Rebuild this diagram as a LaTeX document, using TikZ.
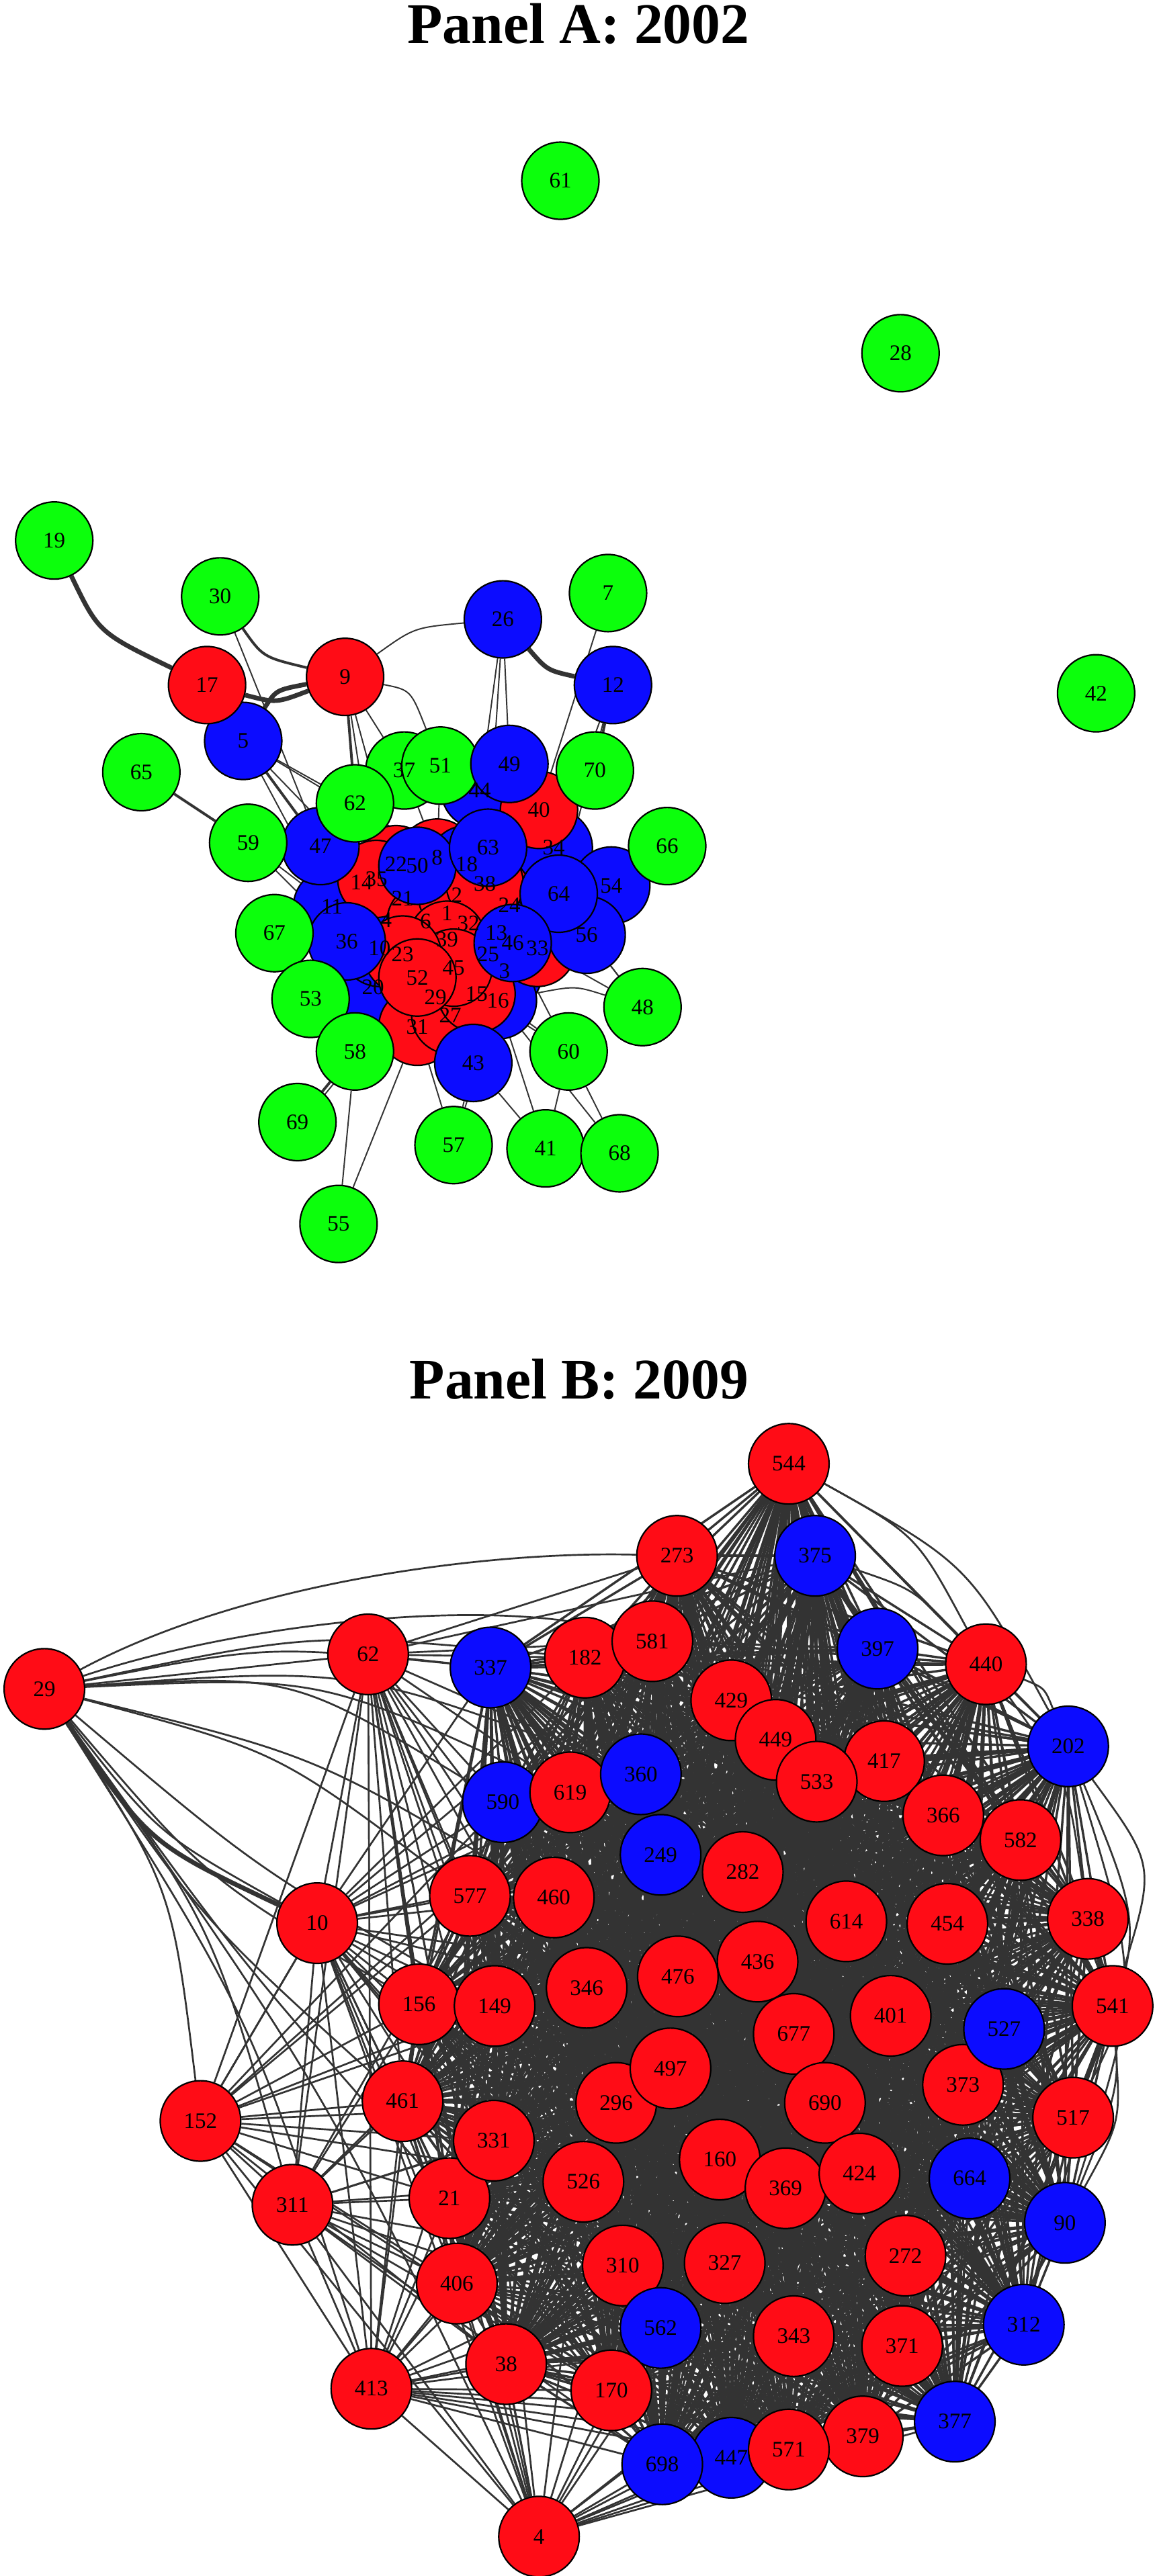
\documentclass[tikz,border=0pt]{standalone}
\usepackage{fontspec}
\setmainfont{Liberation Serif}
\usetikzlibrary{calc}
\definecolor{nred}{RGB}{255,12,22}
\definecolor{nblue}{RGB}{12,12,255}
\definecolor{ngreen}{RGB}{12,255,12}
\definecolor{egray}{RGB}{51,51,51}
\pgfdeclarelayer{bglayer}
\pgfdeclarelayer{edgelayer}
\pgfsetlayers{bglayer,edgelayer,main}
\tikzset{
  vtxA/.style={circle,draw=black,line width=0.9pt,minimum size=47pt,inner sep=0pt},
  vtxB/.style={circle,draw=black,line width=0.9pt,minimum size=49pt,inner sep=0pt},
  lab/.style={font=\fontsize{13.5}{14}\selectfont,inner sep=0pt},
  ttl/.style={font=\fontsize{35}{40}\selectfont\bfseries,inner sep=0pt},
  ed/.style={draw=egray,line width=0.8pt},
  edb/.style={draw=egray,line width=1.1pt},
  edm/.style={draw=egray,line width=1.6pt},
  edk/.style={draw=egray,line width=2.8pt},
  core/.style={draw=egray,line width=1.4pt},
}
\def\listA{22/241/526/nred,8/266/522/nred,18/284/526/nblue,14/220/537/nred,21/245/547/nblue,24/310/551/nred,25/297/581/nblue,3/307/591/nblue,13/302/568/nblue,29/265/607/nred,44/292/481/nblue,34/337/516/nblue,11/202/552/nblue,4/235/560/nblue,20/227/601/nblue,10/231/577/nblue,16/303/609/nblue,33/327/577/nred,35/229/535/nred,1/272/556/nred,6/259/561/nred,32/285/562/nred,2/278/545/nred,38/295/538/nred,40/328/493/nred,31/254/625/nred,27/274/618/nred,15/290/605/nred,39/272/572/nred,45/276/589/nred,23/245/581/nred,52/254/595/nred,47/195/515/nblue,50/254/527/nblue,63/297/516/nblue,54/372/539/nblue,56/357/569/nblue,64/340/544/nblue,46/312/574/nblue,36/211/573/nblue,37/246/469/ngreen,62/216/489/ngreen,51/268/466/ngreen,49/310/465/nblue,70/362/469/ngreen,66/406/515/ngreen,67/167/568/ngreen,53/189/608/ngreen,58/216/640/ngreen,43/288/647/nblue,60/346/640/ngreen,48/391/613/ngreen,69/181/683/ngreen,57/276/697/ngreen,41/332/699/ngreen,68/377/702/ngreen,55/206/745/ngreen,59/151/513/ngreen,65/86/470/ngreen,5/148/451/nblue,17/126/417/nred,9/210/412/nred,30/134/363/ngreen,19/33/329/ngreen,26/306/377/nblue,7/370/361/ngreen,12/373/417/nblue,61/341/110/ngreen,28/548/215/ngreen,42/667/422/ngreen}
\def\listB{544/480/891/nred,273/412/947/nred,375/496/947/nblue,182/356/1009/nred,581/397/999/nred,62/224/1007/nred,337/298.5/1015/nblue,397/534/1003.5/nblue,440/600/1013/nred,29/27/1028/nred,429/445/1035/nred,449/472/1059/nred,417/538/1072/nred,533/497/1084.5/nred,202/650/1063/nblue,590/306/1097/nblue,619/347/1091/nred,360/390/1080/nblue,366/574/1105/nred,582/621/1120/nred,249/402/1129/nblue,282/452/1139.5/nred,577/286/1154/nred,460/337/1155/nred,614/515/1169.5/nred,454/576.5/1171/nred,338/662/1168/nred,10/193/1170.6/nred,476/412.5/1203/nred,436/461/1194/nred,346/357/1210/nred,156/255/1220/nred,149/301/1221/nred,541/677/1221/nred,401/542/1227/nred,373/586/1269/nred,527/611/1235/nblue,677/483/1238/nred,296/375/1280/nred,497/408/1259/nred,690/502/1280/nred,461/245/1279/nred,517/653/1289/nred,152/122/1291/nred,21/273.5/1338/nred,331/300.5/1303/nred,160/438/1314.5/nred,369/478/1332/nred,424/523/1323/nred,664/590/1326/nblue,526/355/1328/nred,311/178/1342/nred,90/648/1353/nblue,272/551/1373/nred,406/278/1390/nred,310/379/1379/nred,327/441/1377.5/nred,562/402/1417/nblue,343/483/1422/nred,371/549/1428/nred,312/623/1415/nblue,38/308/1439/nred,413/226/1454/nred,170/372/1455/nred,377/581/1474/nblue,379/525/1483/nred,447/445/1496/nblue,571/480/1491/nred,698/403/1500/nblue,4/328/1544/nred}
\def\coreB{544,273,375,182,581,337,397,440,429,449,533,417,202,360,619,590,366,582,249,282,577,460,614,454,338,476,436,346,156,149,541,401,527,677,497,461,296,690,373,517,331,160,369,424,664,526,21,90,272,406,310,327,562,343,371,312,38,170,377,379,571,447,698}
\begin{document}
\begin{tikzpicture}[x=1pt,y=-1pt]
\begin{pgfonlayer}{bglayer}
\fill[white] (0,0) rectangle (704,1568);
\end{pgfonlayer}
\useasboundingbox (0,0) rectangle (704,1568);
\node[ttl] (titleA) at (352,14.5) {Panel A: 2002};
\node[ttl] (titleB) at (352.4,839.5) {Panel B: 2009};
% ---------- Panel A vertices
\foreach \n/\x/\y/\c in \listA {\node[vtxA,fill=\c] (a\n) at (\x,\y) {};}
\foreach \n/\x/\y/\c in \listA {\node[lab] (ta\n) at (a\n) {\n};}
% ---------- Panel B vertices
\foreach \n/\x/\y/\c in \listB {\node[vtxB,fill=\c] (b\n) at (\x,\y) {};}
\foreach \n/\x/\y/\c in \listB {\node[lab] (tb\n) at (b\n) {\n};}
\begin{pgfonlayer}{edgelayer}
% ---------- Panel A edges
\draw[edk] (a19) .. controls (60,385) .. (a17);
\draw[edk] (a17) .. controls (168,428) .. (a9);
\draw[edm] (a30) .. controls (160,400) .. (a9);
\draw[edk] (a9) .. controls (168,420) .. (a5);
\draw[ed] (a9) .. controls (252,382) .. (a26);
\draw[edk] (a26) .. controls (333,408) .. (a12);
\draw[edm] (a65) -- (a59);
\draw[edm] (a58) -- (a69);
\draw[ed] ([xshift=3pt]a58.center) -- ([xshift=3pt]a69.center);
\draw[edm] (a9) -- (a14);
\draw[edm] (a5) -- (a47);
\draw[edm] (a12) -- (a70);
\foreach \u/\v in {30/47,9/62,9/37,9/35,9/22,5/62,5/11,5/35,5/8,26/44,26/63,7/40,12/34,59/47,59/11,59/36,66/54,66/64,48/56,48/33,60/16,60/15,60/46,43/57,43/41,16/41,16/68,60/68,58/55,31/55,67/11,17/5,70/40,70/34,51/44,37/14,62/8,41/60,57/31,47/35,62/22,37/8,49/18,51/8,12/64,56/48,16/57,26/49}
  {\draw[ed] (a\u) -- (a\v);}
\draw[ed] (a9) .. controls (250,420) .. (a51);
\draw[ed] (a48) .. controls (350,600) .. (a16);
% ---------- Panel B edges: dense core
\foreach \p [count=\i] in \coreB {
  \foreach \q [count=\j] in \coreB {
    \ifnum\j>\i \draw[core] (b\p.center) -- (b\q.center);\fi
  }
}
% ---------- Panel B: vertex 29
\draw[edb] (b29) .. controls (150,962) and (300,944) .. (b273);
\draw[edb] (b29) .. controls (150,987) and (300,972) .. (b581);
\foreach \v/\d/\a in {62/0/90,337/20/90,182/25/90,590/45/90,619/40/90,360/40/90,577/28/90,460/25/90,156/25/-90,461/20/-90,152/32/90,311/30/90,413/30/90,4/25/90,149/15/-90,21/10/-90}
  {\draw[edb] (b29) .. controls ($(b29)!0.5!(b\v)!\d pt!\a:(b\v)$) .. (b\v);}
\draw[edk] (b29) .. controls ($(b29)!0.5!(b10)!30pt!-90:(b10)$) .. (b10);
\draw[edb] (b29) .. controls ($(b29)!0.5!(b10)!22pt!-90:(b10)$) .. (b10);
% ---------- Panel B peripheral vertices
\foreach \v in {337,182,581,273,375,590,619,360,577,460,10,156,149,461,21,331,406,413,311,152,38,170,346,296,526,4}
  {\draw[edb] (b62) -- (b\v);}
\foreach \v in {337,590,619,577,460,156,149,461,21,331,406,38,346,296,526,310,170,152,311,413,4,562,182,581,360,249,476}
  {\draw[edb] (b10) -- (b\v);}
\foreach \v in {10,461,156,149,311,413,4,21,331,406,38,577,590,296,526,170,346,619}
  {\draw[edb] (b152) -- (b\v);}
\foreach \v in {461,156,149,21,331,406,413,4,38,526,310,170,577,296,562,698}
  {\draw[edb] (b311) -- (b\v);}
\foreach \v in {406,38,21,331,461,4,170,562,698,447,310,526,343,571,379,377,327,156,149,296}
  {\draw[edb] (b413) -- (b\v);}
\foreach \v in {38,406,170,698,447,562,571,379,377,310,21,461,343,327,526,371,331,272,312,156}
  {\draw[edb] (b4) -- (b\v);}
\foreach \u/\v/\d in {544/440/25,544/202/35,375/440/15,440/202/15,440/338/20,202/541/40,202/517/45,202/90/45,338/517/25,338/90/30,541/90/20}
  {\draw[edb] (b\u) .. controls ($(b\u)!0.5!(b\v)!\d pt!90:(b\v)$) .. (b\v);}
\end{pgfonlayer}
\end{tikzpicture}
\end{document}
